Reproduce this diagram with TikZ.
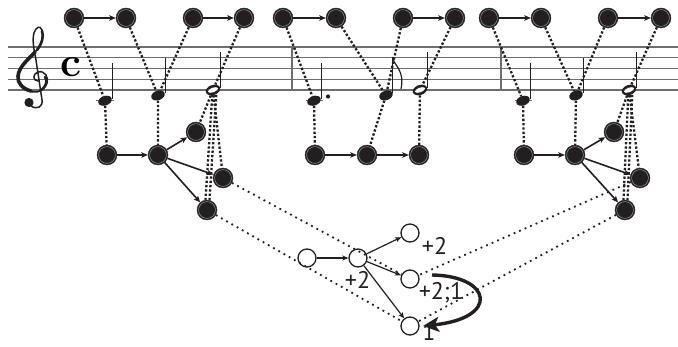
\documentclass[tikz,border=0pt]{standalone}
\usepackage{fontspec}
\newfontfamily\labfont{PT Sans}
\usetikzlibrary{arrows.meta,shapes.geometric}
\definecolor{nodeblack}{HTML}{231F20}
\definecolor{staffgray}{HTML}{6D6E70}
\begin{document}
\begin{tikzpicture}[x=1pt,y=-1pt,
  bnode/.style={circle, fill=nodeblack, draw=nodeblack, line width=0.4pt, minimum size=20pt, inner sep=0pt,
    path picture={\draw[gray!75, line width=0.45pt] (path picture bounding box.center) circle (8.4pt);}},
  wnode/.style={circle, fill=white, draw=nodeblack, line width=1.3pt, minimum size=18pt, inner sep=0pt},
  qhead/.style={ellipse, fill=nodeblack, minimum width=14pt, minimum height=9.5pt, inner sep=0pt, rotate=20},
  hhead/.style={ellipse, fill=nodeblack, minimum width=15pt, minimum height=10pt, inner sep=0pt, rotate=20,
    path picture={\fill[white, rotate=28] (path picture bounding box.center) ellipse (5.4pt and 2.3pt);}},
  arr/.style={-{Stealth[length=6.5pt,width=5.5pt,inset=1.5pt]}, line width=1.6pt, draw=nodeblack},
  warr/.style={-{Stealth[length=6pt,width=5pt,inset=1.5pt]}, line width=1.2pt, draw=nodeblack},
  bigarr/.style={-{Stealth[length=16pt,width=15pt,inset=4pt]}, line width=3.4pt, draw=nodeblack},
  dotA/.style={line width=2.3pt, dash pattern=on 2.3pt off 2pt, draw=nodeblack},
  dotB/.style={line width=1.8pt, dash pattern=on 1.8pt off 4.2pt, draw=nodeblack},
  staff/.style={line width=1.1pt, draw=staffgray},
  stem/.style={line width=1pt, draw=nodeblack},
  clefline/.style={draw=nodeblack, line cap=round, line join=round},
  lab/.style={inner sep=0pt, anchor=base, font={\labfont\fontsize{24}{24}\selectfont}, text=nodeblack}
]
\useasboundingbox (0,0) rectangle (678,347);

% staff
\foreach \k in {0,...,4} {\draw[staff] (8,47+10.75*\k) -- (678,47+10.75*\k);}
\draw[staff] (292,47) -- (292,90);
\draw[staff] (501,47) -- (501,90);

% treble clef
\draw[clefline, line width=1.5pt] (38,81) .. controls (33,81) and (32,74) .. (38,72)
  .. controls (45,70) and (49,78) .. (47,83)
  .. controls (45,90) and (38,93) .. (33,92)
  .. controls (24,91) and (17,84) .. (18,76)
  .. controls (19,66) and (30,58) .. (36,51)
  .. controls (42,44) and (44,36) .. (42,30)
  .. controls (40,25) and (36,27) .. (34,33)
  .. controls (32,40) and (34,50) .. (36,60)
  -- (42,100)
  .. controls (43,107) and (37,110) .. (31,106);
\draw[clefline, line width=3.6pt] (31,91) .. controls (23,89) and (17,83) .. (18,76)
  .. controls (19,66) and (30,58) .. (35,52);
\draw[clefline, line width=2.6pt] (37,50) .. controls (42,44) and (44,36) .. (42,31);
\draw[clefline, line width=2.4pt] (45,77) .. controls (48,81) and (46,87) .. (40,91);
\fill[nodeblack] (29,102.5) circle (4.6);
\node[inner sep=0pt, font=\fontsize{42}{42}\selectfont\bfseries] (ctime) at (71,67) {c};

% ledger lines
\draw[staff] (96,100.75) -- (114,100.75);
\draw[staff] (306,100.75) -- (323,100.75);
\draw[staff] (515,100.75) -- (532,100.75);

% note heads
\node[qhead] (h1) at (105,100.75) {};
\node[qhead] (h2) at (158,95.4) {};
\node[hhead] (h3) at (213,90) {};
\node[qhead] (h4) at (314,100.75) {};
\node[qhead] (h5) at (386,95.4) {};
\node[hhead] (h6) at (420,90) {};
\node[qhead] (h7) at (523,100.75) {};
\node[qhead] (h8) at (576,95.4) {};
\node[hhead] (h9) at (629,90) {};

% stems
\draw[stem] (112,99) -- (112,63);
\draw[stem] (165,93.5) -- (165,58);
\draw[stem] (220,88) -- (220,52);
\draw[stem] (321,99) -- (321,63);
\draw[stem] (392.5,93.5) -- (392.5,57);
\draw[stem] (427,88) -- (427,52);
\draw[stem] (530,99) -- (530,63);
\draw[stem] (583,93.5) -- (583,58);
\draw[stem] (636,88) -- (636,52);
% flag and dot
\draw[line width=1.2pt, draw=nodeblack] (392.5,57) .. controls (394,66) and (405,70) .. (401,89);
\fill[nodeblack] (328,96.5) circle (2.1);

% top row
\foreach \n/\x in {t1/74,t2/126,t3/193,t4/244,t5/283,t6/336,t7/403,t8/455,t9/489,t10/541,t11/608,t12/661}
  {\node[bnode] (\n) at (\x,18) {};}
\draw[arr] (t1) -- (t2);
\draw[arr] (t3) -- (t4);
\draw[arr] (t5) -- (t6);
\draw[arr] (t7) -- (t8);
\draw[arr] (t9) -- (t10);
\draw[arr] (t11) -- (t12);

% middle row
\node[bnode] (m1a) at (107,155) {};
\node[bnode] (m1b) at (158,155) {};
\node[bnode] (m1u) at (196,132) {};
\node[bnode] (m1m) at (223,178) {};
\node[bnode] (m1l) at (207,210) {};
\node[bnode] (m2a) at (315,155) {};
\node[bnode] (m2b) at (367,155) {};
\node[bnode] (m2c) at (419,155) {};
\node[bnode] (m3a) at (524,155) {};
\node[bnode] (m3b) at (575,155) {};
\node[bnode] (m3u) at (614,132) {};
\node[bnode] (m3m) at (640,178) {};
\node[bnode] (m3l) at (625,210) {};
\draw[arr] (m1a) -- (m1b);
\draw[arr] (m1b) -- (m1u);
\draw[arr] (m1b) -- (m1m);
\draw[arr] (m1b) -- (m1l);
\draw[arr] (m2a) -- (m2b);
\draw[arr] (m2b) -- (m2c);
\draw[arr] (m3a) -- (m3b);
\draw[arr] (m3b) -- (m3u);
\draw[arr] (m3b) -- (m3m);
\draw[arr] (m3b) -- (m3l);

% top to notes
\draw[dotA] (t1) -- (h1);
\draw[dotA] (t2) -- (h2);
\draw[dotA] (t3) -- (h2);
\draw[dotA] (t4) -- (h3);
\draw[dotA] (t5) -- (h4);
\draw[dotA] (t6) -- (h5);
\draw[dotA] (t7) -- (h5);
\draw[dotA] (t8) -- (h6);
\draw[dotA] (t9) -- (h7);
\draw[dotA] (t10) -- (h8);
\draw[dotA] (t11) -- (h8);
\draw[dotA] (t12) -- (h9);

% notes to middle
\draw[dotA] (h1) -- (m1a);
\draw[dotA] (h2) -- (m1b);
\draw[dotA] (h3) -- (m1u);
\draw[dotA] ([xshift=-2.5pt]h3.south) -- ([xshift=-1.5pt]m1l.north);
\draw[dotA] ([xshift=1.5pt]h3.south) -- ([xshift=2.5pt]m1l.north);
\draw[dotA] (h3) -- (m1m);
\draw[dotA] (h4) -- (m2a);
\draw[dotA] (h5) -- (m2b);
\draw[dotA] (h6) -- (m2c);
\draw[dotA] (h7) -- (m3a);
\draw[dotA] (h8) -- (m3b);
\draw[dotA] (h9) -- (m3u);
\draw[dotA] ([xshift=-2.5pt]h9.south) -- ([xshift=-1.5pt]m3l.north);
\draw[dotA] ([xshift=1.5pt]h9.south) -- ([xshift=2.5pt]m3l.north);
\draw[dotA] (h9) -- (m3m);

% bottom row
\node[wnode] (b1) at (307,258) {};
\node[wnode] (b2) at (358,258) {};
\node[wnode] (bu) at (410,233) {};
\node[wnode] (bm) at (410,279) {};
\node[wnode] (bl) at (410,326) {};
\draw[warr, line width=1.5pt] (b1) -- (b2);
\draw[warr] (b2) -- (bu);
\draw[warr] (b2) -- (bm);
\draw[warr] (b2) -- (bl);

% middle to bottom
\draw[dotB] (m1m) -- (bm);
\draw[dotB] (m1l) -- (bl);
\draw[dotB] (m3m) -- (bm);
\draw[dotB] (m3l) -- (bl);

% labels
\node[lab] (l1) at (434.5,255) {+2};
\node[lab] (l2) at (357.5,288.5) {+2};
\node[lab] (l3) at (441,300) {+2;1};
\node[lab] (l4) at (429,341) {1};

% curved arrow
\coordinate (cs) at (432,275);
\coordinate (ce) at (423,326);
\draw[bigarr] (cs) .. controls (492,276) and (500,318) .. (ce);
\end{tikzpicture}
\end{document}
